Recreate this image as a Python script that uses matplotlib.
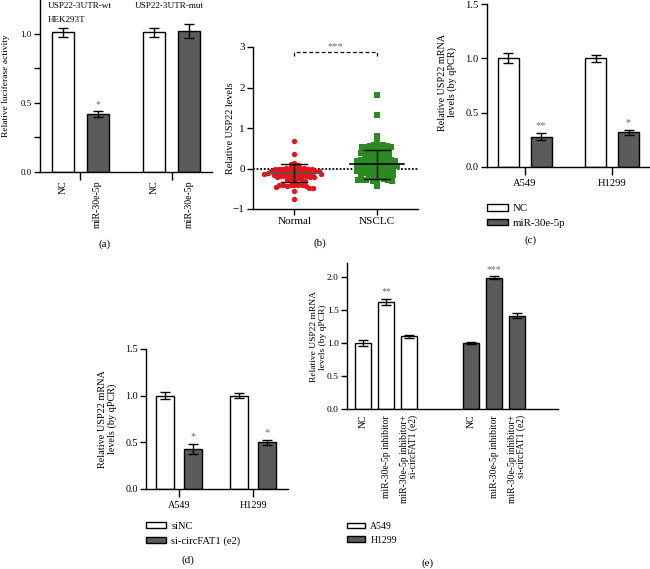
import numpy as np
import matplotlib
matplotlib.use("Agg")
import matplotlib.pyplot as plt

plt.rcParams['font.family'] = ['Liberation Serif', 'DejaVu Serif']
plt.rcParams['axes.linewidth'] = 1.0
plt.rcParams['xtick.major.width'] = 1.0
plt.rcParams['ytick.major.width'] = 1.0
plt.rcParams['ytick.minor.width'] = 1.0

# ---- data ----
# (a) luciferase, HEK293T
a_labels = ['NC', 'miR-30e-5p', 'NC', 'miR-30e-5p']
a_mean = [1.01, 0.42, 1.01, 1.02]
a_err = [0.035, 0.02, 0.035, 0.05]
a_stars = ['', '*', '', '']

# (b) relative USP22 levels
b_groups = ['Normal', 'NSCLC']
normal_vals = [0.67, 0.37, 0.13, 0.11, 0.09,
               0.03, 0.02, 0.02, 0.01, 0.01, 0.0, 0.0, -0.01, -0.01, -0.02,
               -0.04, -0.05, -0.05, -0.06, -0.06, -0.07, -0.07, -0.08, -0.08, -0.09,
               -0.1, -0.11, -0.11, -0.12, -0.12, -0.13, -0.13, -0.14, -0.14, -0.15,
               -0.17, -0.18, -0.18, -0.19, -0.19, -0.2, -0.2, -0.21, -0.22, -0.23,
               -0.26, -0.27, -0.28, -0.3, -0.31,
               -0.4, -0.41, -0.4, -0.42, -0.41, -0.4, -0.42, -0.41, -0.47, -0.46, -0.47,
               -0.55, -0.75]
nsclc_vals = [1.82, 1.31, 0.80, 0.66, 0.59, 0.58, 0.57, 0.56, 0.55, 0.54, 0.53, 0.52,
              0.47, 0.46, 0.45, 0.45, 0.44, 0.43, 0.42,
              0.38, 0.37, 0.36, 0.35, 0.34, 0.33, 0.32, 0.3,
              0.27, 0.26, 0.25, 0.24, 0.23, 0.22, 0.21, 0.2, 0.19, 0.18,
              0.14, 0.13, 0.12, 0.11, 0.11, 0.1, 0.1, 0.09, 0.08, 0.07, 0.06,
              0.03, 0.02, 0.01, 0.0, 0.0, -0.01, -0.02, -0.03, -0.04, -0.05,
              -0.08, -0.09, -0.1, -0.1, -0.11, -0.12, -0.13, -0.14, -0.15,
              -0.19, -0.2, -0.21, -0.22,
              -0.27, -0.28, -0.29, -0.3, -0.29, -0.28, -0.3, -0.29, -0.43]
b_mean = [-0.12, 0.10]
b_sd = [0.22, 0.35]

# (c) miR-30e-5p mimic
c_cells = ['A549', 'H1299']
c_mean = [1.0, 0.28, 1.0, 0.32]
c_err = [0.045, 0.035, 0.035, 0.025]
c_stars = ['', '**', '', '*']
c_series = ['NC', 'miR-30e-5p']

# (d) si-circFAT1
d_cells = ['A549', 'H1299']
d_mean = [1.0, 0.43, 1.0, 0.50]
d_err = [0.04, 0.055, 0.03, 0.03]
d_stars = ['', '*', '', '*']
d_series = ['siNC', 'si-circFAT1 (e2)']

# (e) rescue
e_labels = ['NC', 'miR-30e-5p inhibitor', 'miR-30e-5p inhibitor+\nsi-circFAT1 (e2)']
e_a549 = [1.0, 1.62, 1.10]
e_a549_err = [0.04, 0.05, 0.025]
e_h1299 = [1.0, 1.99, 1.41]
e_h1299_err = [0.02, 0.02, 0.04]
e_stars = ['', '**', '', '', '***', '']
e_series = ['A549', 'H1299']

W, H = 650, 569
fig = plt.figure(figsize=(W/100, H/100), dpi=100)
DARK = '#5b5b5c'
STAR = '#6e6e6e'


def px_axes(l, t, r, b):
    ax = fig.add_axes([l/W, 1-b/H, (r-l)/W, (b-t)/H])
    ax.spines['top'].set_visible(False)
    ax.spines['right'].set_visible(False)
    return ax


def ylab(ax, text, fs, x_px, yc_px):
    ax.set_ylabel(text, fontsize=fs, linespacing=1.1)
    ax.yaxis.set_label_coords(x_px/W, 1-yc_px/H, transform=fig.transFigure)


def under(ax, xs, labels, fs, gap_px):
    for x, lab in zip(xs, labels):
        ax.annotate(lab, xy=(x, 0), xycoords=('data', 'axes fraction'),
                    xytext=(0, -gap_px*0.72), textcoords='offset points',
                    rotation=90, ha='center', va='top', fontsize=fs,
                    multialignment='right', linespacing=1.0)


def stars(ax, xs, tops, marks, fs):
    for x, t, m in zip(xs, tops, marks):
        if m:
            ax.annotate(m, xy=(x, t), xytext=(0, 3), textcoords='offset points',
                        ha='center', va='baseline', fontsize=fs, color=STAR)


def bars(ax, pos, mean, err, cols, width):
    return ax.bar(pos, mean, width=width, color=cols, edgecolor='black', linewidth=1.0,
                  yerr=err, capsize=3.5, error_kw=dict(elinewidth=1.0, capthick=1.0, ecolor='black'),
                  zorder=2)


def legend(ax, handles, labels, fs, x_px, y_px):
    ax.legend(handles, labels, loc='upper left', bbox_to_anchor=(x_px/W, 1-y_px/H),
              bbox_transform=fig.transFigure, frameon=False, fontsize=fs,
              handlelength=1.9, handleheight=0.55, handletextpad=0.5,
              labelspacing=0.5, borderpad=0, borderaxespad=0)


pos4 = [0, 1, 2.65, 3.65]
cols4 = ['white', DARK, 'white', DARK]

# ---------- (a) ----------
ax = px_axes(40, 0, 212, 172)
bars(ax, pos4, a_mean, a_err, cols4, 0.64)
ax.set_xlim(-0.67, 4.32)
ax.set_ylim(0, 1.245)
ax.set_xticks([0.5, 3.15])
ax.set_xticklabels([])
ax.set_yticks([0, 0.5, 1.0])
ax.set_yticks([0.25, 0.75], minor=True)
ax.set_yticklabels(['0.0', '0.5', '1.0'])
ax.tick_params(axis='x', length=6)
ax.tick_params(axis='y', which='both', length=4, labelsize=6.4, pad=2)
ylab(ax, 'Relative luciferase activity', 6.8, 10, 86)
under(ax, pos4, a_labels, 7.1, 8)
stars(ax, pos4, np.add(a_mean, a_err), a_stars, 7)
fig.text(48/W, 1-6/H, 'USP22-3UTR-wt', fontsize=6.6, va='center')
fig.text(48/W, 1-20/H, 'HEK293T', fontsize=6.6, va='center')
fig.text(135/W, 1-6/H, 'USP22-3UTR-mut', fontsize=6.6, va='center')
fig.text(105/W, 1-244/H, '(a)', fontsize=8, ha='center', va='center')

# ---------- (b) ----------
ax = px_axes(253, 47, 418, 209)
PXX, PXY = 82.5, 40.5   # pixels per data unit


def swarm(vals, diam):
    placed = []
    offs = []
    cands = sorted(np.arange(-40, 40.25, 0.25), key=lambda c: (abs(c), c))
    for v in vals:
        yp = v*PXY
        for c in cands:
            if all((c-px)**2 + (yp-py)**2 >= diam**2 for px, py in placed):
                break
        placed.append((c, yp))
        offs.append(c/PXX)
    return np.array(offs)


ax.axhline(0, color='black', lw=1.3, ls=(0, (1, 1)), zorder=1)
nx = swarm(normal_vals, 3.7)
ax.scatter(0 + nx, normal_vals, s=15, marker='o', color='#e4141b', linewidths=0, zorder=2)
gx = swarm(nsclc_vals, 4.0)
ax.scatter(1 + gx, nsclc_vals, s=13, marker='s', color='#2c8a22', linewidths=0, zorder=2)
for i, (m, sd) in enumerate(zip(b_mean, b_sd)):
    ax.plot([i-0.33, i+0.33], [m, m], color='#555555' if i == 0 else 'black', lw=1.2, zorder=3)
    ax.plot([i, i], [m-sd, m+sd], color='black', lw=1.0, zorder=3)
    for e in (m-sd, m+sd):
        ax.plot([i-0.16, i+0.16], [e, e], color='black', lw=1.0, zorder=3)
ax.plot([0, 0, 1, 1], [2.78, 2.88, 2.88, 2.78], color='black', lw=0.9, ls=(0, (3, 2)))
ax.text(0.5, 2.9, '***', ha='center', va='bottom', fontsize=7.5, color=STAR)
ax.set_xlim(-0.5, 1.5)
ax.set_ylim(-1, 3)
ax.set_yticks([-1, 0, 1, 2, 3])
ax.set_yticklabels(['\u22121', '0', '1', '2', '3'])
ax.set_xticks([0, 1])
ax.set_xticklabels(b_groups)
ax.tick_params(length=4, labelsize=8, pad=2)
ylab(ax, 'Relative USP22 levels', 7.3, 235, 128)
fig.text(320/W, 1-243/H, '(b)', fontsize=8, ha='center', va='center')

# ---------- (c) ----------
ax = px_axes(487, 4, 650, 167)
bc = bars(ax, pos4, c_mean, c_err, cols4, 0.64)
ax.set_xlim(-0.64, 4.3)
ax.set_ylim(0, 1.5)
ax.set_yticks([0, 0.5, 1.0, 1.5])
ax.set_xticks([0.5, 3.15])
ax.set_xticklabels(c_cells)
ax.tick_params(axis='x', length=6, labelsize=7.6, pad=3)
ax.tick_params(axis='y', length=4, labelsize=7.6, pad=2)
ylab(ax, 'Relative USP22 mRNA\nlevels (by qPCR)', 7.3, 457, 82)
stars(ax, pos4, np.add(c_mean, c_err), c_stars, 7.5)
legend(ax, [bc[0], bc[1]], c_series, 7.8, 487, 204)
fig.text(531/W, 1-240/H, '(c)', fontsize=8, ha='center', va='center')

# ---------- (d) ----------
ax = px_axes(146, 349, 288, 489)
bd = bars(ax, pos4, d_mean, d_err, cols4, 0.64)
ax.set_xlim(-0.68, 4.39)
ax.set_ylim(0, 1.5)
ax.set_yticks([0, 0.5, 1.0, 1.5])
ax.set_xticks([0.5, 3.15])
ax.set_xticklabels(d_cells)
ax.tick_params(axis='x', length=6, labelsize=7.3, pad=3)
ax.tick_params(axis='y', length=4, labelsize=7.3, pad=2)
ylab(ax, 'Relative USP22 mRNA\nlevels (by qPCR)', 7.4, 117, 419)
stars(ax, pos4, np.add(d_mean, d_err), d_stars, 7.5)
legend(ax, [bd[0], bd[1]], d_series, 7.6, 146, 522)
fig.text(188/W, 1-560/H, '(d)', fontsize=8, ha='center', va='center')

# ---------- (e) ----------
ax = px_axes(347, 263, 558, 409)
pos_a = [0, 1, 2]
pos_h = [4.7, 5.7, 6.7]
ba = bars(ax, pos_a, e_a549, e_a549_err, 'white', 0.68)
bh = bars(ax, pos_h, e_h1299, e_h1299_err, DARK, 0.68)
ax.set_xlim(-0.7, 8.48)
ax.set_ylim(0, 2.21)
ax.set_yticks([0, 0.5, 1.0, 1.5, 2.0])
ax.set_xticks([])
ax.tick_params(axis='y', length=4, labelsize=6.8, pad=2)
ylab(ax, 'Relative USP22 mRNA\nlevels (by qPCR)', 6.8, 327, 337)
under(ax, pos_a + pos_h, e_labels + e_labels, 6.9, 6)
stars(ax, pos_a + pos_h, np.add(e_a549 + e_h1299, e_a549_err + e_h1299_err), e_stars, 7)
legend(ax, [ba[0], bh[0]], e_series, 7.0, 347, 522)
fig.text(428/W, 1-563/H, '(e)', fontsize=8, ha='center', va='center')

fig.savefig('out.png', dpi=100)
